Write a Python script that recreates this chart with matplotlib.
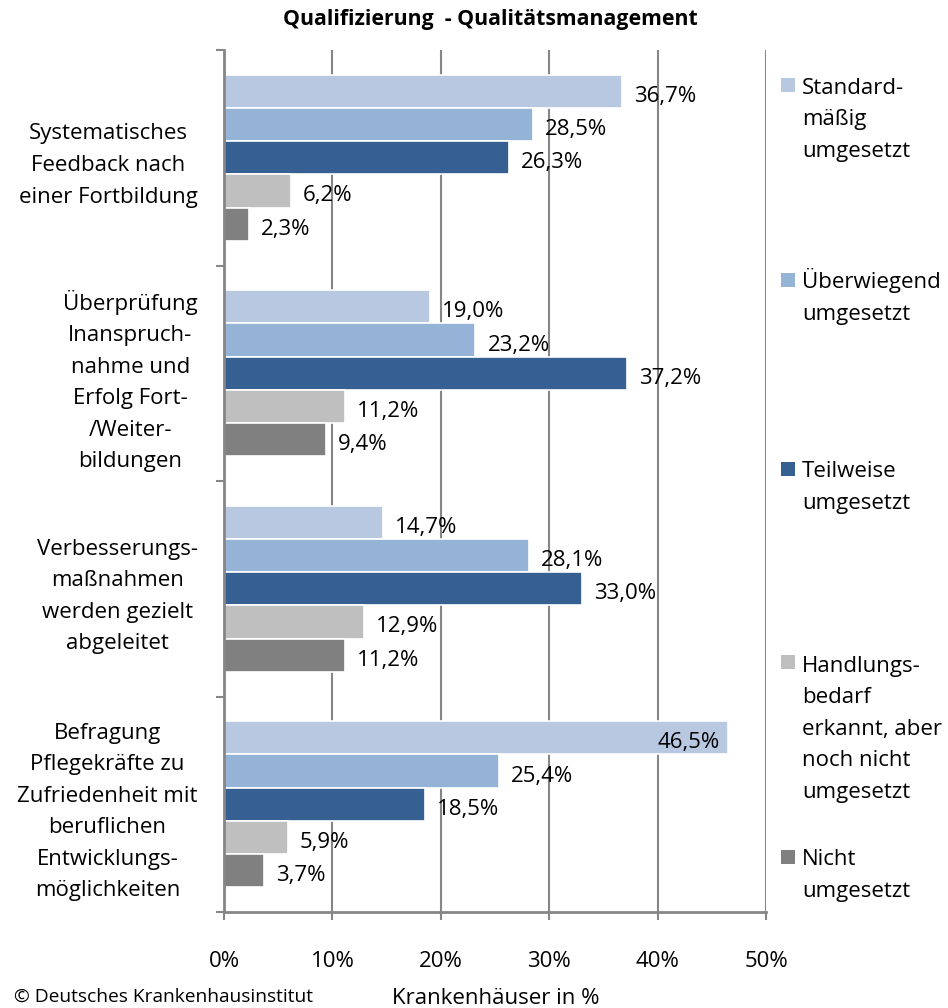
import matplotlib
matplotlib.use("Agg")
import matplotlib.pyplot as plt
from matplotlib.patches import Rectangle
import numpy as np

plt.rcParams['font.family'] = ['Open Sans', 'DejaVu Sans']

# data
categories = [
    "Systematisches\nFeedback nach\neiner Fortbildung",
    "Überprüfung\nInanspruch-\nnahme und\nErfolg Fort-\n/Weiter-\nbildungen",
    "Verbesserungs-\nmaßnahmen\nwerden gezielt\nabgeleitet",
    "Befragung\nPflegekräfte zu\nZufriedenheit mit\nberuflichen\nEntwicklungs-\nmöglichkeiten",
]
series_names = [
    "Standard-\nmäßig\numgesetzt",
    "Überwiegend\numgesetzt",
    "Teilweise\numgesetzt",
    "Handlungs-\nbedarf\nerkannt, aber\nnoch nicht\numgesetzt",
    "Nicht\numgesetzt",
]
standard = [36.7, 19.0, 14.7, 46.5]
ueberwiegend = [28.5, 23.2, 28.1, 25.4]
teilweise = [26.3, 37.2, 33.0, 18.5]
handlungsbedarf = [6.2, 11.2, 12.9, 5.9]
nicht = [2.3, 9.4, 11.2, 3.7]
x_ticks = [0, 10, 20, 30, 40, 50]
x_ticklabels = ["0%", "10%", "20%", "30%", "40%", "50%"]

colors = ['#B9C8E1', '#95B3D7', '#376092', '#BFBFBF', '#808080']
all_series = [standard, ueberwiegend, teilweise, handlungsbedarf, nicht]

W, H = 948, 1008
fig = plt.figure(figsize=(W / 100, H / 100), dpi=100)
ax = fig.add_axes([224 / W, 1 - 912 / H, (766 - 224) / W, (912 - 50) / H])

step = 0.154
n = len(all_series)
centers = np.arange(len(categories)) + 0.5
fs = 16
lsp = 1.66
line_px = 32

for i, (vals, col) in enumerate(zip(all_series, colors)):
    y = centers + (i - (n - 1) / 2) * step
    ax.barh(y, vals, height=step, color=col, edgecolor='white', linewidth=1.2, zorder=2)
    for yy, v in zip(y, vals):
        txt = f"{v:.1f}".replace('.', ',') + '%'
        if v > 42:
            ax.annotate(txt, (v, yy), xytext=(-8, -5), textcoords='offset pixels',
                        ha='right', va='center', fontsize=fs, zorder=3)
        else:
            ax.annotate(txt, (v, yy), xytext=(12, -5), textcoords='offset pixels',
                        ha='left', va='center', fontsize=fs, zorder=3)

ax.set_xlim(0, 50)
ax.set_ylim(len(categories), 0)

grid_col = '#868686'
ax.set_xticks(x_ticks)
ax.set_xticklabels(x_ticklabels, fontsize=fs)
ax.tick_params(axis='x', direction='out', length=6, width=1.5, color=grid_col, pad=22)
ax.xaxis.grid(True, color=grid_col, linewidth=1.5, zorder=0)
ax.set_axisbelow(True)

ax.set_yticks(np.arange(len(categories) + 1))
ax.set_yticklabels([])
ax.tick_params(axis='y', which='major', direction='out', length=6, width=1.5, color=grid_col)
ax.set_yticks(centers, minor=True)
ax.set_yticklabels(categories, minor=True, fontsize=fs, multialignment='center', linespacing=lsp)
ax.tick_params(axis='y', which='minor', length=0, pad=19)

for s in ['top', 'right']:
    ax.spines[s].set_visible(False)
for s in ['left', 'bottom']:
    ax.spines[s].set_color(grid_col)
    ax.spines[s].set_linewidth(2)

# legend drawn entry by entry so the marker sits on the first text line
legend_baselines = [93, 288, 477, 670, 865]
for name, col, yb in zip(series_names, colors, legend_baselines):
    fig.patches.append(Rectangle((781 / W, 1 - (yb - 1) / H), 14 / W, 14 / H,
                                 transform=fig.transFigure, facecolor=col,
                                 edgecolor='none', figure=fig))
    n_lines = name.count('\n') + 1
    y_last = yb + (n_lines - 1) * line_px
    fig.text(802 / W, 1 - y_last / H, name, ha='left', va='baseline',
             fontsize=fs, linespacing=lsp)

fig.text(490 / W, 1 - 20 / H, "Qualifizierung  - Qualitätsmanagement",
         ha='center', va='center', fontsize=15.3, fontweight='bold')
fig.text(496 / W, 1 - 998 / H, "Krankenhäuser in %", ha='center', va='center', fontsize=fs)
fig.text(14 / W, 1 - 997 / H, "© Deutsches Krankenhausinstitut", ha='left', va='center',
         fontsize=13.8)

fig.savefig('out.png', dpi=100)
